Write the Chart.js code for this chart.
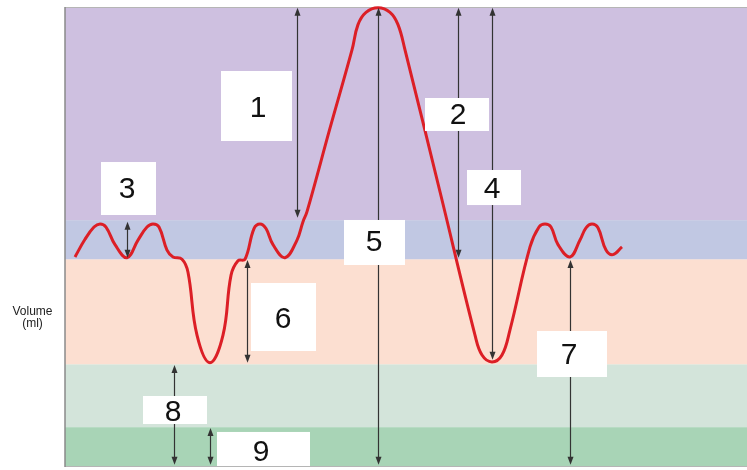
<!DOCTYPE html>
<html><head><meta charset="utf-8">
<script src="https://cdn.jsdelivr.net/npm/chart.js@4"></script>
<style>html,body{margin:0;padding:0;background:#fff}</style>
</head><body>
<canvas id="c" width="747" height="470"></canvas>
<script>
// Spirogram trace (time in arbitrary units, volume in ml)
const times   = [1.0, 2.0, 2.9, 3.5, 4.1, 5.0, 6.2, 7.3, 8.2, 8.8, 9.4, 10.2, 10.8, 11.7, 12.3, 13.2, 14.5, 15.8, 16.6, 17.3, 18.0, 18.9, 19.5, 20.1, 20.8, 22.0, 23.2, 23.8, 24.2, 26.5, 28.7, 29.3, 30.1, 31.3, 32.5, 33.3, 34.0, 37.5, 41.0, 41.7, 42.7, 43.7, 44.5, 46.5, 47.4, 48.0, 48.6, 49.3, 50.5, 51.5, 52.1, 52.7, 53.3, 54.1, 54.8, 55.7];
const volumes = [2740, 2970, 3130, 3170, 3130, 2900, 2730, 2960, 3130, 3170, 3130, 2830, 2740, 2710, 2540, 1720, 1360, 1720, 2500, 2690, 2710, 3110, 3170, 3110, 2900, 2730, 2960, 3200, 3330, 4420, 5440, 5770, 5930, 5990, 5930, 5770, 5440, 3590, 1720, 1460, 1370, 1460, 1790, 2870, 3130, 3170, 3130, 2900, 2740, 2960, 3120, 3170, 3120, 2830, 2770, 2870];

// Volume bands (ml)
const bandEdges  = [0, 520, 1340, 2710, 3220, 6000];
const bandColors = ['#a8d4b6', '#d3e4da', '#fcdfd1', '#c1c8e3', '#cec0e0'];

// Measurement arrows
const arrowNames  = ['1', '2', '3', '4', '5', '6', '7', '8', '9'];
const arrowX      = [23.2, 39.3, 6.2, 42.7, 31.3, 18.2, 50.5, 10.9, 14.5];
const arrowTop    = [5990, 5990, 3200, 5990, 5990, 2700, 2700, 1330, 510];
const arrowBottom = [3250, 2730, 2730, 1400, 30, 1360, 30, 30, 30];

// Label boxes: [x0, x1, yTop, yBottom] and text anchor [x, y]
const boxRects = [
  [15.6, 22.7, 5165, 4252],
  [36.0, 42.4, 4813, 4383],
  [3.6, 9.1, 3978, 3287],
  [40.2, 45.6, 3874, 3417],
  [27.9, 34.0, 3222, 2635],
  [18.6, 25.1, 2400, 1513],
  [47.2, 54.2, 1774, 1174],
  [7.8, 14.2, 926, 561],
  [15.2, 24.5, 457, 13]
];
const boxText = [
  [19.3, 4709], [39.3, 4617], [6.2, 3652], [42.7, 3652], [30.9, 2961],
  [21.8, 1957], [50.4, 1487], [10.8, 743], [19.6, 222]
];

const diagram = {
  id: 'diagram',
  beforeDatasetsDraw(chart) {
    const {ctx, chartArea: a, scales: {y}} = chart;
    ctx.save();
    for (let i = 0; i < bandColors.length; i++) {
      const yt = y.getPixelForValue(bandEdges[i + 1]);
      const yb = y.getPixelForValue(bandEdges[i]);
      ctx.fillStyle = bandColors[i];
      ctx.fillRect(a.left, yt, a.right - a.left, yb - yt);
    }
    ctx.strokeStyle = '#b5b5b5'; ctx.lineWidth = 1;
    ctx.beginPath();
    ctx.moveTo(a.left, a.top + 0.5); ctx.lineTo(a.right, a.top + 0.5);
    ctx.moveTo(a.left, a.bottom - 0.5); ctx.lineTo(a.right, a.bottom - 0.5);
    ctx.stroke();
    ctx.strokeStyle = '#8a8a8a'; ctx.lineWidth = 1.5;
    ctx.beginPath(); ctx.moveTo(a.left, a.top); ctx.lineTo(a.left, a.bottom); ctx.stroke();
    ctx.restore();
  },
  afterDatasetsDraw(chart) {
    const {ctx, chartArea: a, scales: {x, y}} = chart;
    ctx.save();
    // arrows
    ctx.strokeStyle = '#333'; ctx.fillStyle = '#333'; ctx.lineWidth = 1.2;
    for (let i = 0; i < arrowX.length; i++) {
      const px = Math.round(x.getPixelForValue(arrowX[i])) + 0.5;
      const t = y.getPixelForValue(arrowTop[i]);
      const b = y.getPixelForValue(arrowBottom[i]);
      ctx.beginPath(); ctx.moveTo(px, t + 4); ctx.lineTo(px, b - 4); ctx.stroke();
      ctx.beginPath(); ctx.moveTo(px, t); ctx.lineTo(px - 3, t + 8); ctx.lineTo(px + 3, t + 8); ctx.closePath(); ctx.fill();
      ctx.beginPath(); ctx.moveTo(px, b); ctx.lineTo(px - 3, b - 8); ctx.lineTo(px + 3, b - 8); ctx.closePath(); ctx.fill();
    }
    // label boxes
    ctx.font = '30px "Liberation Sans", Arial, sans-serif';
    ctx.textAlign = 'center'; ctx.textBaseline = 'alphabetic';
    for (let i = 0; i < boxRects.length; i++) {
      const r = boxRects[i];
      const x0 = x.getPixelForValue(r[0]), x1 = x.getPixelForValue(r[1]);
      const y0 = y.getPixelForValue(r[2]), y1 = y.getPixelForValue(r[3]);
      ctx.fillStyle = '#ffffff';
      ctx.fillRect(x0, y0, x1 - x0, y1 - y0);
      ctx.fillStyle = '#111';
      ctx.fillText(arrowNames[i], x.getPixelForValue(boxText[i][0]), y.getPixelForValue(boxText[i][1]) + 10.7);
    }
    // axis label
    ctx.fillStyle = '#222';
    ctx.font = '12px "Liberation Sans", Arial, sans-serif';
    ctx.textBaseline = 'middle';
    const lx = a.left / 2;
    ctx.fillText('Volume', lx, y.getPixelForValue(2030));
    ctx.fillText('(ml)', lx, y.getPixelForValue(1870));
    ctx.restore();
  }
};

new Chart(document.getElementById('c'), {
  type: 'line',
  data: {
    datasets: [{
      data: times.map((t, i) => ({x: t, y: volumes[i]})),
      borderColor: '#dc1f26',
      borderWidth: 3,
      pointRadius: 0,
      fill: false,
      tension: 0.4,
      clip: false
    }]
  },
  options: {
    responsive: false,
    animation: false,
    layout: {padding: {left: 65, top: 7, right: 0, bottom: 3}},
    plugins: {legend: {display: false}, tooltip: {enabled: false}},
    scales: {
      x: {type: 'linear', min: 0, max: 68.2, display: false},
      y: {type: 'linear', min: 0, max: 6000, display: false}
    }
  },
  plugins: [diagram]
});
</script>
</body></html>
